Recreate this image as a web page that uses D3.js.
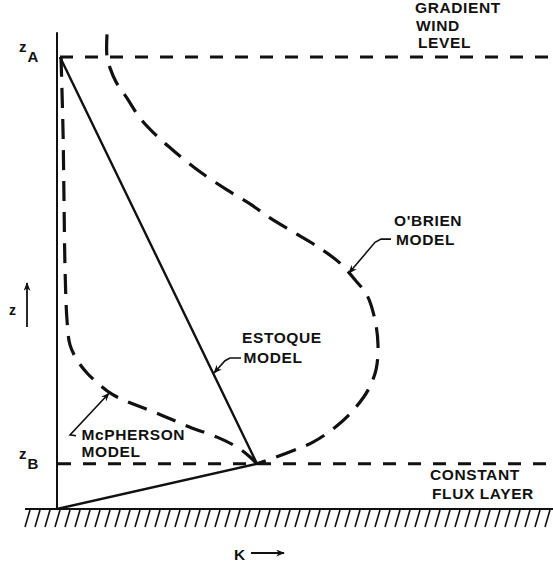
<!DOCTYPE html>
<html>
<head>
<meta charset="utf-8">
<script src="https://cdn.jsdelivr.net/npm/d3@7/dist/d3.min.js"></script>
<style>
  html, body { margin: 0; padding: 0; background: #fff; }
  svg { display: block; }
  text { font-family: "Liberation Sans", Arial, sans-serif; font-weight: bold; fill: #111; }
</style>
</head>
<body>
<svg id="chart" width="553" height="569"></svg>
<script>
// Eddy diffusivity K versus height z for three boundary-layer models.
// Heights: z = 0 ground, zB top of the constant flux layer, zA gradient wind level.
const levelNames = ["zA", "zB"];
const levelZ = [100, 10];

// Estoque model: straight segments ground -> zB -> zA
const estoqueK = [0, 40, 0.6];
const estoqueZ = [0, 10, 100];

// O'Brien model: cubic-like profile matched at zB and zA
const obrienK = [10, 10, 10.6, 11.8, 14, 16.6, 20, 23.6, 28.6, 34, 38.6, 42.6, 47.2, 51.6, 56.6, 59.6, 62, 63.6, 64.2, 63.8, 62.2, 59.6, 56, 51.2, 46, 40];
const obrienZ = [105, 100, 97.6, 94.5, 90.9, 86.5, 82.5, 79, 74.6, 70.6, 67.5, 64.4, 61.3, 58.4, 54.4, 50.7, 47.3, 41.8, 36.3, 30.8, 26.3, 22.3, 18.4, 14.8, 12.4, 10];

// McPherson model
const mcphersonK = [0.8, 1.2, 1.4, 1.6, 2, 2.6, 4, 6, 8.6, 11, 14.6, 20, 26.6, 32, 36, 38.6, 40];
const mcphersonZ = [100, 83.8, 68.4, 53.5, 41.8, 36.3, 33, 30.1, 27.4, 25.4, 23.5, 21.2, 18.1, 15.9, 13.7, 11.5, 10];

const svg = d3.select("#chart");
const x = d3.scaleLinear().domain([0, 100]).range([57, 557]);
const y = d3.scaleLinear().domain([0, 100]).range([509, 57]);
const P = (k, z) => [x(k), y(z)];

const ink = "#111";
const defs = svg.append("defs");
defs.append("marker")
  .attr("id", "head")
  .attr("viewBox", "0 0 10 8")
  .attr("refX", 9).attr("refY", 4)
  .attr("markerWidth", 9).attr("markerHeight", 7)
  .attr("markerUnits", "userSpaceOnUse")
  .attr("orient", "auto")
  .append("path").attr("d", "M0,0 L10,4 L0,8 L3,4 Z").attr("fill", ink);

const line = d3.line().x(d => x(d[0])).y(d => y(d[1]));
const smooth = d3.line().x(d => x(d[0])).y(d => y(d[1])).curve(d3.curveCatmullRom.alpha(0.5));

// ground surface with hatching
const gy = y(0);
svg.append("line")
  .attr("x1", 25).attr("x2", 553).attr("y1", gy).attr("y2", gy)
  .attr("stroke", ink).attr("stroke-width", 2);
svg.append("g").selectAll("line")
  .data(d3.range(25, 556, 10))
  .join("line")
  .attr("x1", d => d + 5).attr("y1", gy + 1)
  .attr("x2", d => d).attr("y2", gy + 18)
  .attr("stroke", ink).attr("stroke-width", 1.6);

// vertical axis (K = 0)
svg.append("line")
  .attr("x1", x(0)).attr("x2", x(0)).attr("y1", y(105.5)).attr("y2", gy)
  .attr("stroke", ink).attr("stroke-width", 2);

// reference levels zA and zB
svg.append("g").selectAll("line")
  .data(levelZ)
  .join("line")
  .attr("x1", (d, i) => x(i === 0 ? 0.6 : 0.2)).attr("x2", 553)
  .attr("y1", d => y(d)).attr("y2", d => y(d))
  .attr("stroke", ink).attr("stroke-width", 3)
  .attr("stroke-dasharray", "13 12");

// Estoque model (solid)
svg.append("path")
  .datum(d3.zip(estoqueK, estoqueZ))
  .attr("d", line)
  .attr("fill", "none").attr("stroke", ink).attr("stroke-width", 2.4)
  .attr("stroke-linejoin", "miter");

// O'Brien model (dashed)
svg.append("path")
  .datum(d3.zip(obrienK, obrienZ))
  .attr("d", smooth)
  .attr("fill", "none").attr("stroke", ink).attr("stroke-width", 3.2)
  .attr("stroke-dasharray", "21 11");

// McPherson model (dashed)
svg.append("path")
  .datum(d3.zip(mcphersonK, mcphersonZ))
  .attr("d", smooth)
  .attr("fill", "none").attr("stroke", ink).attr("stroke-width", 3.2)
  .attr("stroke-dasharray", "20 11");

// leaders from the model names to their curves
const leaders = [
  [[66.8, 59.7], [64.8, 59.7], [63.6, 59.0], [58.4, 52.2]],
  [[36.8, 33.4], [34.6, 33.4], [33.6, 32.8], [31.4, 30.1]],
  [[3.8, 16.2], [2.6, 16.4], [10.4, 25.6]]
];
svg.append("g").selectAll("path")
  .data(leaders)
  .join("path")
  .attr("d", d => d3.line()(d.map(p => P(p[0], p[1]))))
  .attr("fill", "none").attr("stroke", ink).attr("stroke-width", 1.6)
  .attr("marker-end", "url(#head)");

// text labels
const labels = [
  { t: "GRADIENT", k: 71.6, z: 109.7 },
  { t: "WIND", k: 71.8, z: 105.8 },
  { t: "LEVEL", k: 72.2, z: 102 },
  { t: "O'BRIEN", k: 67.4, z: 62.6 },
  { t: "MODEL", k: 67.8, z: 58.5 },
  { t: "ESTOQUE", k: 37, z: 36.7 },
  { t: "MODEL", k: 37.3, z: 32.2 },
  { t: "McPHERSON", k: 4.9, z: 15.2 },
  { t: "MODEL", k: 4.9, z: 11.6 },
  { t: "CONSTANT", k: 74.6, z: 6.4 },
  { t: "FLUX LAYER", k: 75, z: 2.3 }
];
svg.append("g").selectAll("text")
  .data(labels)
  .join("text")
  .attr("x", d => x(d.k)).attr("y", d => y(d.z))
  .attr("font-size", 15.5)
  .attr("letter-spacing", 0.6)
  .text(d => d.t);

// level names: z with a subscript
levelNames.forEach((n, i) => {
  const t = svg.append("text")
    .attr("x", 19).attr("y", y(levelZ[i]) - 5)
    .attr("font-size", 15);
  t.append("tspan").text(n[0]);
  t.append("tspan").attr("dy", 10).attr("dx", 1).text(n[1]);
});

// axis titles with arrows
svg.append("text").attr("x", 9).attr("y", 315).attr("font-size", 14).text("z");
svg.append("line")
  .attr("x1", 27).attr("x2", 27).attr("y1", 327).attr("y2", 283)
  .attr("stroke", ink).attr("stroke-width", 1.8).attr("marker-end", "url(#head)");
svg.append("text").attr("x", 234).attr("y", 560).attr("font-size", 15.5).text("K");
svg.append("line")
  .attr("x1", 251).attr("x2", 284).attr("y1", 553).attr("y2", 553)
  .attr("stroke", ink).attr("stroke-width", 1.8).attr("marker-end", "url(#head)");
</script>
</body>
</html>
